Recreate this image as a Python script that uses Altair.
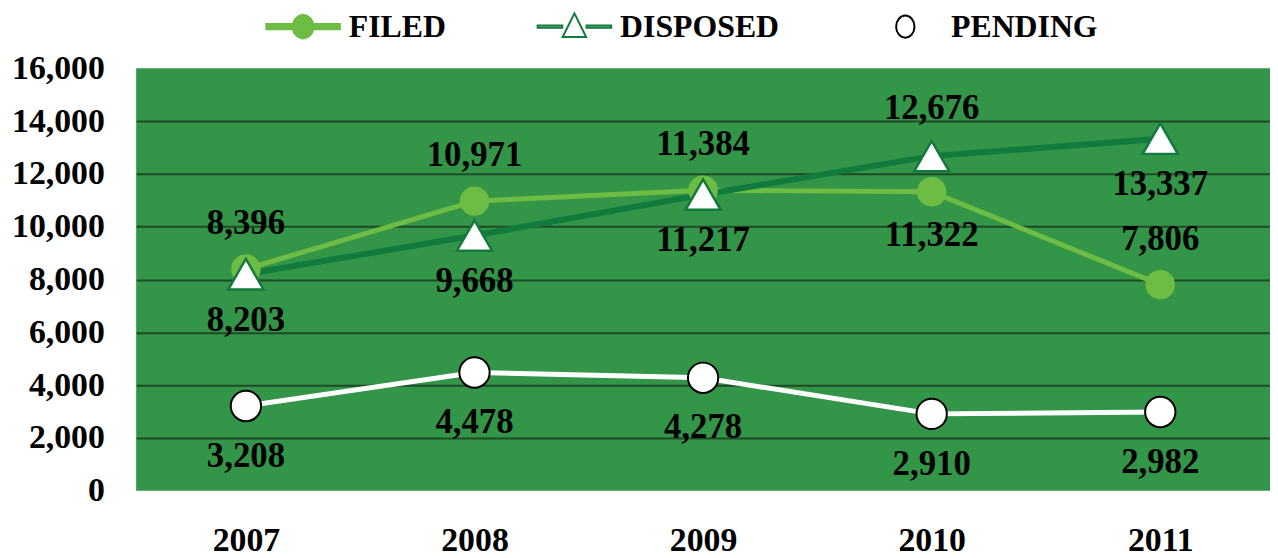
import altair as alt
import pandas as pd

# ---- data ----
years = ["2007", "2008", "2009", "2010", "2011"]
filed = [8396, 10971, 11384, 11322, 7806]
disposed = [8203, 9668, 11217, 12676, 13337]
pending = [3208, 4478, 4278, 2910, 2982]
series_names = ["FILED", "DISPOSED", "PENDING"]
y_ticks = [0, 2000, 4000, 6000, 8000, 10000, 12000, 14000, 16000]

# label placement (above / below the marker) per year
filed_label_above = [True, True, True, False, True]
disposed_label_above = [False, False, False, True, False]
pending_label_above = [False, False, False, False, False]

rows = []
for s, vals, above in [("FILED", filed, filed_label_above),
                       ("DISPOSED", disposed, disposed_label_above),
                       ("PENDING", pending, pending_label_above)]:
    for yr, v, a in zip(years, vals, above):
        rows.append({"year": yr, "series": s, "value": v, "above": a})
df = pd.DataFrame(rows)

# ---- style ----
FONT = "Liberation Serif"
BG = "#339547"
C_FILED = "#6dbd45"
C_DISP = "#127a3c"
GRID = "#1f4a26"

x_enc = alt.X("year:O",
              scale=alt.Scale(type="point", padding=0.48),
              axis=alt.Axis(title=None, labelAngle=0, ticks=False, domain=False, grid=False,
                            labelFont=FONT, labelFontSize=34, labelFontWeight="bold",
                            labelColor="black", labelPadding=33))
y_enc = alt.Y("value:Q",
              scale=alt.Scale(domain=[0, 16000], nice=False, zero=True),
              axis=alt.Axis(title=None, values=y_ticks, format=",.0f", ticks=False, domain=False,
                            labelFont=FONT, labelFontSize=34, labelFontWeight="bold",
                            labelColor="black", labelPadding=32,
                            grid=True, gridColor=GRID, gridWidth=2,
                            gridOpacity={"condition": {"test": "datum.value === 0 || datum.value === 16000",
                                                       "value": 0}, "value": 1}))

base = alt.Chart(df).encode(x=x_enc, y=y_enc)


def sel(name):
    return base.transform_filter(alt.datum.series == name)


filed_line = sel("FILED").mark_line(color=C_FILED, strokeWidth=5)
disp_line = sel("DISPOSED").mark_line(color=C_DISP, strokeWidth=6)
pend_line = sel("PENDING").mark_line(color="white", strokeWidth=5)

filed_pts = sel("FILED").mark_point(shape="circle", filled=True, color=C_FILED,
                                    opacity=1, size=880, strokeWidth=0)
disp_pts = sel("DISPOSED").mark_point(shape="triangle-up", filled=True, color="white",
                                      stroke=C_DISP, strokeWidth=2.5, opacity=1, size=1250)
pend_pts = sel("PENDING").mark_point(shape="circle", filled=True, color="white",
                                     stroke="black", strokeWidth=2, opacity=1, size=930)


def labels(name, above, dy):
    return (base.transform_filter((alt.datum.series == name) & (alt.datum.above == above))
            .mark_text(font=FONT, fontSize=35, fontWeight="bold", color="black", dy=dy)
            .encode(text=alt.Text("value:Q", format=",")))


lab_layers = [
    labels("FILED", True, -46), labels("FILED", False, 43),
    labels("DISPOSED", True, -48), labels("DISPOSED", False, 46),
    labels("PENDING", False, 50),
]

# ---- legend (custom symbols: line + marker) ----
P_FILED = ("M-1,-0.07H1V0.07H-1Z "
           "M-0.28,0A0.28,0.32 0 1,1 0.28,0A0.28,0.32 0 1,1 -0.28,0Z")
P_DISP = ("M-1,-0.03H-0.33V0.03H-1Z M0.33,-0.03H1V0.03H0.33Z "
          "M0,-0.36L0.32,0.28L-0.32,0.28Z")
P_PEND = "M-0.25,0A0.25,0.3 0 1,1 0.25,0A0.25,0.3 0 1,1 -0.25,0Z"

leg = alt.Legend(title=None, orient="none", direction="horizontal",
                 legendX=130, legendY=-80, padding=0,
                 labelFont=FONT, labelFontSize=32, labelFontWeight="bold", labelColor="black",
                 labelLimit=400, labelOffset=8, columnPadding=88,
                 symbolSize=5476, symbolStrokeWidth=2, symbolOpacity=1)

legend_layer = (alt.Chart(df).transform_filter("false")
                .mark_point(filled=True, opacity=1)
                .encode(x=x_enc, y=y_enc,
                        shape=alt.Shape("series:N", legend=leg,
                                        scale=alt.Scale(domain=series_names,
                                                        range=[P_FILED, P_DISP, P_PEND])),
                        fill=alt.Fill("series:N", legend=leg,
                                      scale=alt.Scale(domain=series_names,
                                                      range=[C_FILED, "white", "white"])),
                        stroke=alt.Stroke("series:N", legend=leg,
                                          scale=alt.Scale(domain=series_names,
                                                          range=[C_FILED, C_DISP, "black"]))))

chart = alt.layer(
    filed_line, disp_line, pend_line,
    filed_pts, disp_pts, pend_pts,
    *lab_layers,
    legend_layer,
).properties(
    width=1141, height=425,
    autosize=alt.AutoSizeParams(type="none"),
    padding={"left": 129, "top": 59, "right": 0, "bottom": 70},
).configure_view(fill=BG, strokeWidth=0)

chart.save("out.html", embed_options={"renderer": "svg", "actions": False})
